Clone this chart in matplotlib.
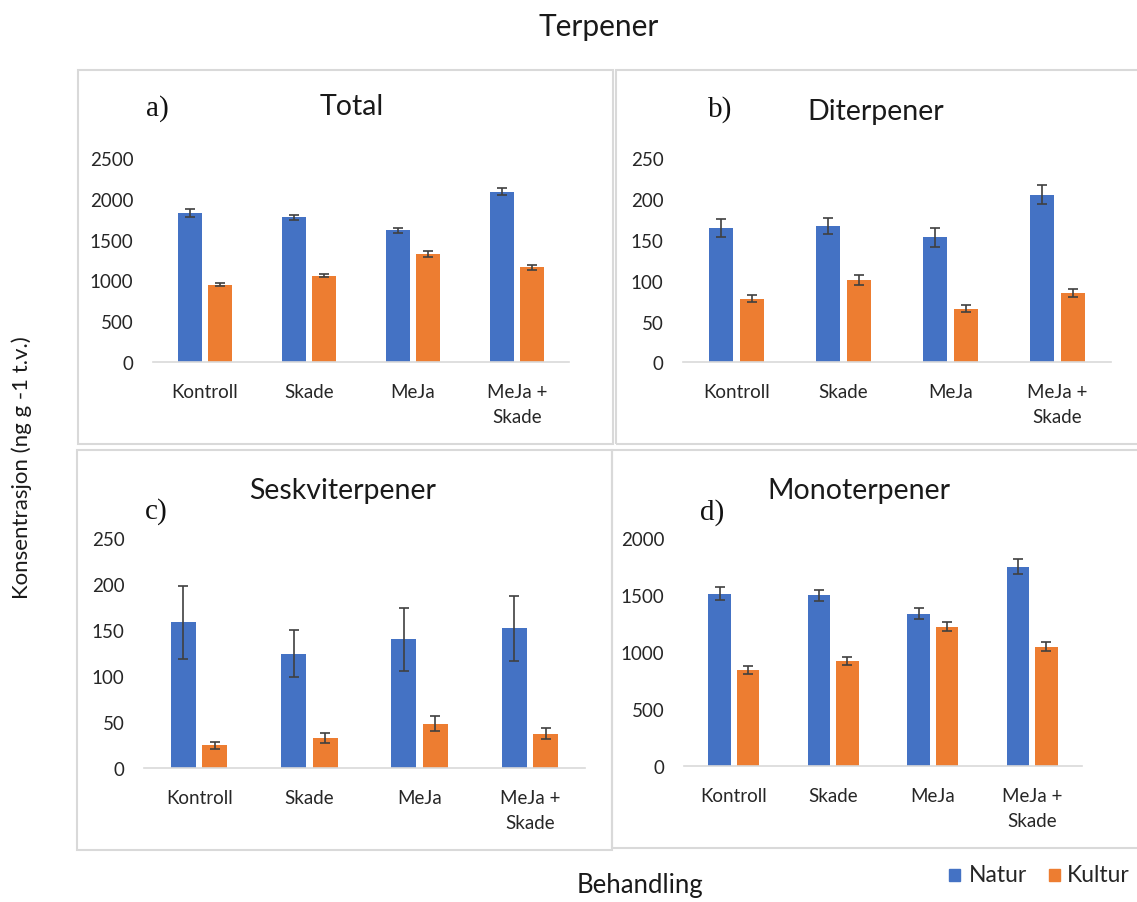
import matplotlib.pyplot as plt
from matplotlib.patches import Rectangle
import numpy as np

plt.rcParams['font.family'] = ['Lato', 'DejaVu Sans']

behandling = ['Kontroll', 'Skade', 'MeJa', 'MeJa +\nSkade']

# gjennomsnitt og standardfeil per gruppe
total_natur = [1826, 1773, 1612, 2087]
total_natur_se = [45, 33, 35, 45]
total_kultur = [947, 1058, 1319, 1160]
total_kultur_se = [20, 15, 37, 27]

di_natur = [165, 167.5, 153, 205.5]
di_natur_se = [11, 9.8, 11.6, 11.4]
di_kultur = [78, 101, 65.8, 85]
di_kultur_se = [4.7, 5.7, 3.9, 5.3]

seskvi_natur = [158.6, 124.5, 140, 152]
seskvi_natur_se = [40, 25.8, 34, 35]
seskvi_kultur = [25, 32.7, 48.3, 37.4]
seskvi_kultur_se = [3.8, 5.4, 8.5, 6.2]

mono_natur = [1512, 1500, 1339, 1751]
mono_natur_se = [57, 48, 48, 64]
mono_kultur = [848, 924, 1225, 1050]
mono_kultur_se = [34, 34, 38, 37]

W, H = 1137, 903
fig = plt.figure(figsize=(W / 100, H / 100), dpi=100)

BLUE = '#4472C4'
ORANGE = '#ED7D31'
GRID = '#d9d9d9'
TXT = '#1a1a1a'


def fx(x):
    return x / W


def fy(y):
    return 1 - y / H


def ramme(x0, y0, x1, y1):
    fig.patches.append(Rectangle((fx(x0), fy(y1)), fx(x1) - fx(x0), fy(y0) - fy(y1),
                                 transform=fig.transFigure, fill=False,
                                 edgecolor=GRID, linewidth=1.5))


def panel(x0, x1, ytop, y0, natur, natur_se, kultur, kultur_se, ymax, step):
    ax = fig.add_axes([fx(x0), fy(y0), fx(x1) - fx(x0), (y0 - ytop) / H])
    x = np.arange(len(behandling))
    ekw = dict(ecolor='#404040', elinewidth=1.2, capthick=1.2)
    ax.bar(x - 0.143, natur, 0.226, yerr=natur_se, color=BLUE, capsize=3.6, error_kw=ekw)
    ax.bar(x + 0.143, kultur, 0.226, yerr=kultur_se, color=ORANGE, capsize=3.6, error_kw=ekw)
    ax.set_xlim(-0.5, 3.5)
    ax.set_ylim(0, ymax)
    ax.set_yticks(np.arange(0, ymax + 1, step))
    ax.set_xticks(x)
    ax.set_xticklabels(behandling, linespacing=1.55, va='top')
    for s in ['top', 'right', 'left']:
        ax.spines[s].set_visible(False)
    ax.spines['bottom'].set_color(GRID)
    ax.spines['bottom'].set_linewidth(1.2)
    ax.tick_params(axis='both', length=0, labelsize=13.5, colors='#262626')
    ax.tick_params(axis='y', pad=14)
    ax.tick_params(axis='x', pad=15)
    ax.patch.set_alpha(0)
    return ax


ramme(78, 71, 613, 445)
ramme(616, 71, 1145, 445)
ramme(77, 451, 612, 851)
ramme(612, 451, 1145, 849)

panel(153, 569, 159, 363, total_natur, total_natur_se, total_kultur, total_kultur_se, 2500, 500)
panel(683, 1111, 159.3, 363.3, di_natur, di_natur_se, di_kultur, di_kultur_se, 250, 50)
panel(144, 585, 539.3, 769, seskvi_natur, seskvi_natur_se, seskvi_kultur, seskvi_kultur_se, 250, 50)
panel(684, 1082, 539.3, 767.3, mono_natur, mono_natur_se, mono_kultur, mono_kultur_se, 2000, 500)

# titler og bokstaver
tkw = dict(ha='center', va='center', fontsize=20.5, color=TXT)
fig.text(fx(352), fy(107), 'Total', **tkw)
fig.text(fx(876), fy(112), 'Diterpener', **tkw)
fig.text(fx(343), fy(491), 'Seskviterpener', **tkw)
fig.text(fx(859), fy(491), 'Monoterpener', **tkw)

lkw = dict(ha='center', va='center', fontsize=21, family='Liberation Serif', color='#111111')
fig.text(fx(157), fy(109), 'a)', **lkw)
fig.text(fx(720), fy(110), 'b)', **lkw)
fig.text(fx(156), fy(512), 'c)', **lkw)
fig.text(fx(712), fy(513), 'd)', **lkw)

fig.text(fx(599), fy(27), 'Terpener', ha='center', va='center', fontsize=21.5, color=TXT)
fig.text(fx(640), fy(886), 'Behandling', ha='center', va='center', fontsize=18.5, color=TXT)
fig.text(fx(22), fy(468), 'Konsentrasjon (ng g -1 t.v.)', ha='center', va='center',
         rotation=90, fontsize=16, color=TXT)

# forklaring
fig.patches.append(Rectangle((fx(949), fy(882)), fx(11), 12 / H, transform=fig.transFigure,
                             color=BLUE))
fig.text(fx(969), fy(876), 'Natur', ha='left', va='center', fontsize=16.5, color='#262626')
fig.patches.append(Rectangle((fx(1049), fy(882)), fx(11), 12 / H, transform=fig.transFigure,
                             color=ORANGE))
fig.text(fx(1067), fy(876), 'Kultur', ha='left', va='center', fontsize=16.5, color='#262626')

fig.savefig('out.png', dpi=100, facecolor='white')
